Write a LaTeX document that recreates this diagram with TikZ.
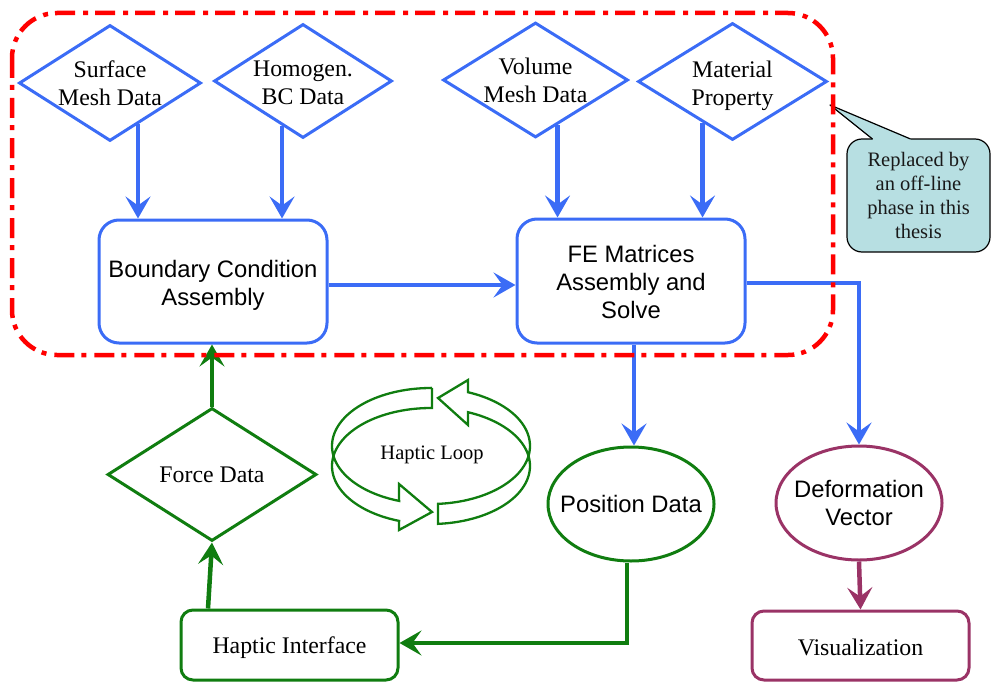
\documentclass[tikz,border=0pt]{standalone}
\usepackage{fontspec}
\setmainfont{Liberation Serif}
\setsansfont{Liberation Sans}
\usetikzlibrary{arrows.meta,shapes.geometric}
\definecolor{cblue}{RGB}{59,108,246}
\definecolor{cgreen}{RGB}{16,125,16}
\definecolor{cpurple}{RGB}{154,51,102}
\definecolor{cred}{RGB}{255,0,0}
\definecolor{cfill}{RGB}{183,223,226}
\newcommand\bigtxt{\fontsize{23.8}{28}\selectfont}
\newcommand\smalltxt{\fontsize{20.5}{24.3}\selectfont}
\begin{document}
\begin{tikzpicture}[x=1pt,y=-1pt,
  diam/.style={diamond, line width=3pt, inner sep=0pt},
  txt/.style={font=\bigtxt, align=center, inner sep=0pt, text=black},
  stxt/.style={font=\bigtxt\sffamily, align=center, inner sep=0pt, text=black},
  sbox/.style={draw=cblue, line width=3pt, rounded corners=20pt, inner sep=0pt},
  gbox/.style={draw=cgreen, line width=3pt, rounded corners=12pt, inner sep=0pt},
  pbox/.style={draw=cpurple, line width=3pt, rounded corners=12pt, inner sep=0pt},
  ell/.style={ellipse, line width=3pt, inner sep=0pt},
  tip/.style={-{Stealth[length=22pt,width=25pt,inset=9pt]}},
  barrow/.style={draw=cblue, line width=4.5pt, tip},
  garrow/.style={draw=cgreen, line width=4.5pt, tip},
  parrow/.style={draw=cpurple, line width=4.5pt, tip},
  loopst/.style={draw=cgreen, line width=2.3pt, line join=miter},
  callst/.style={draw=black, line width=1.2pt, fill=cfill, rounded corners=15pt, font=\smalltxt, align=center, inner sep=0pt, text=black!90}
]
\useasboundingbox (0,0) rectangle (992,682);

% data diamonds
\node[diam, draw=cblue, minimum width=182pt, minimum height=116pt,
  label={[txt]center:{Surface\\Mesh Data}}] (smd) at (110,83) {};
\node[diam, draw=cblue, minimum width=178pt, minimum height=114pt,
  label={[txt,yshift=-2pt]center:{Homogen.\\BC Data}}] (hbc) at (303,81) {};
\node[diam, draw=cblue, minimum width=185pt, minimum height=115pt,
  label={[txt]center:{Volume\\Mesh Data}}] (vmd) at (535.5,80) {};
\node[diam, draw=cblue, minimum width=189pt, minimum height=117pt,
  label={[txt,yshift=-4pt]center:{Material\\Property}}] (mp) at (732.5,81.5) {};

% process boxes
\node[sbox, minimum width=228pt, minimum height=123pt,
  label={[stxt,yshift=-3.5pt]center:{Boundary Condition\\Assembly}}] (bca) at (213,281.5) {};
\node[sbox, minimum width=228pt, minimum height=124pt,
  label={[stxt,yshift=-0.5pt]center:{FE Matrices\\Assembly and\\Solve}}] (fem) at (631,281) {};

% ellipses
\node[ell, draw=cgreen, minimum width=166pt, minimum height=114pt,
  label={[stxt]center:{Position Data}}] (pd) at (631,504) {};
\node[ell, draw=cpurple, minimum width=166pt, minimum height=114pt,
  label={[stxt]center:{Deformation\\Vector}}] (dv) at (859,503) {};

% bottom boxes
\node[gbox, minimum width=217pt, minimum height=70pt,
  label={[txt,yshift=-2.5pt]center:{Haptic Interface}}] (hi) at (289.5,645) {};
\node[pbox, minimum width=217pt, minimum height=69pt,
  label={[txt,yshift=-2pt]center:{Visualization}}] (vis) at (860.5,645.5) {};

% force data
\node[diam, draw=cgreen, minimum width=209pt, minimum height=133pt,
  label={[txt]center:{Force Data}}] (fd) at (212,474.5) {};

% haptic loop
\node[font=\fontsize{20.5}{24}\selectfont, inner sep=0pt] (hl) at (432,455) {Haptic Loop};
\draw[loopst] (432,388)
  -- plot[domain=89.4:251.2, samples=70] ({431+99*cos(\x)},{446-58*sin(\x)})
  -- (399,484) -- (432,512) -- (399,530)
  -- plot[domain=251.2:89.4, samples=70] ({431+99*cos(\x)},{466-58*sin(\x)})
  -- cycle;
\draw[loopst] (438,504)
  -- plot[domain=274.05:428.05, samples=70] ({431+99*cos(\x)},{446-58*sin(\x)})
  -- (468,380) -- (438,398) -- (468,425)
  -- plot[domain=428.05:274.05, samples=70] ({431+99*cos(\x)},{466-58*sin(\x)})
  -- cycle;

% connectors
\draw[barrow] (smd.-56.5) -- (smd.-56.5 |- bca.north);
\draw[barrow] (hbc.-115.8) -- (hbc.-115.8 |- bca.north);
\draw[barrow] (vmd.-64) -- (vmd.-64 |- fem.north);
\draw[barrow] (mp.-126.3) -- (mp.-126.3 |- fem.north);
\draw[barrow] ([yshift=-3.5pt]bca.east) -- ([yshift=-3.5pt]bca.east -| fem.west);
\draw[barrow] ([yshift=-2pt]fem.east) -| (dv.north);
\draw[barrow] ([xshift=3pt]fem.south) -- ([xshift=3pt]fem.south |- pd.north);
\draw[parrow] (dv.south) -- (vis.north);
\draw[garrow] ([xshift=-4pt]pd.south) |- ([yshift=2pt]hi.east);
\draw[garrow] ([xshift=-4pt]fd.south |- hi.north) -- (fd.south);
\draw[garrow] (fd.north) -- (fd.north |- bca.south);

% callout
\node[callst, minimum width=143pt, minimum height=113pt] (co) at (918.5,195.5) {Replaced by\\an off-line\\phase in this\\thesis};
\coordinate (cotip) at (830,105);
\fill[cfill] ([xshift=-46pt]co.north) -- (cotip) -- ([xshift=-8pt]co.north)
  -- ([xshift=-8pt,yshift=-2.5pt]co.north) -- ([xshift=-46pt,yshift=-2.5pt]co.north) -- cycle;
\draw[black, line width=1.2pt, line join=round] ([xshift=-46pt,yshift=-0.6pt]co.north) -- (cotip) -- ([xshift=-8pt,yshift=-0.6pt]co.north);

% offline region
\draw[cred, line width=4.5pt, dash pattern=on 20pt off 7pt on 5pt off 8pt, rounded corners=45pt] (12,13) rectangle (833,355);
\end{tikzpicture}
\end{document}
